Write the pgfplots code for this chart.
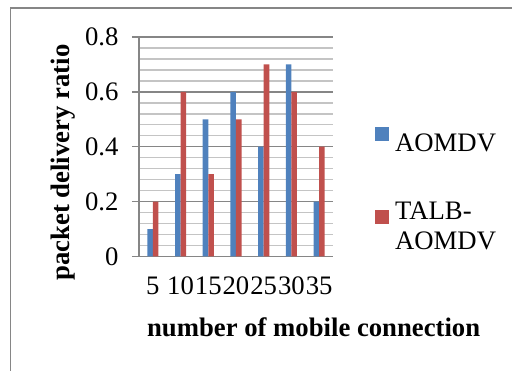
\documentclass[border=0pt]{standalone}
\usepackage{fontspec}
\setmainfont{Liberation Serif}
\usepackage{pgfplots}
\pgfplotsset{compat=1.18}

\definecolor{aomdv}{HTML}{4F81BD}
\definecolor{talb}{HTML}{C0504D}
\definecolor{majgrid}{HTML}{868686}
\definecolor{mingrid}{HTML}{C4C4C4}
\newcommand{\chartfont}{\fontsize{26.7}{30}\selectfont}

\pgfplotsset{
  sqlegend/.style={legend image code/.code={\fill[##1] (0pt,2pt) rectangle (14pt,16pt);}},
}

\begin{document}
\begin{tikzpicture}
\useasboundingbox (0pt,0pt) rectangle (512pt,371pt);
% chart area frame: top and left edges
\draw[majgrid, line width=1.3pt] (512pt,363pt) -- (10.5pt,363pt) -- (10.5pt,0pt);
\begin{axis}[
  at={(139pt,114.5pt)}, anchor=south west,
  scale only axis, width=194pt, height=219.5pt,
  xmin=-0.5, xmax=6.5, ymin=0, ymax=0.8,
  axis lines=left,
  axis line style={-, majgrid, line width=1.4pt},
  xtick={0,1,2,3,4,5,6},
  xticklabels={5,10,15,20,25,30,35},
  xtick style={draw=none},
  ytick={0,0.2,0.4,0.6,0.8},
  yticklabels={0,0.2,0.4,0.6,0.8},
  minor ytick={0.04,0.08,0.12,0.16,0.24,0.28,0.32,0.36,0.44,0.48,0.52,0.56,0.64,0.68,0.72,0.76},
  tick align=outside,
  major tick length=7pt, minor tick length=0pt,
  ytick style={majgrid, line width=1.4pt},
  ymajorgrids, yminorgrids,
  major grid style={majgrid, line width=1.4pt},
  minor grid style={mingrid, line width=1.4pt},
  ticklabel style={font=\chartfont},
  yticklabel style={xshift=-10pt},
  xticklabel style={yshift=-10pt},
  xlabel={number of mobile connection},
  xlabel style={font=\chartfont\bfseries, inner sep=0pt,
    at={(axis description cs:0.041,-0.365)}, anchor=base west},
  ylabel={packet delivery ratio},
  ylabel style={font=\chartfont\bfseries,
    at={(axis description cs:-0.356,0.428)}, anchor=base},
  ybar, bar width=0.2,
  legend style={draw=none, fill=none, font=\chartfont,
    at={(axis description cs:1.201,0.6)}, anchor=north west,
    row sep=45pt, column sep=4pt, nodes={align=left}},
  legend cell align=left,
]
\addplot[fill=aomdv, draw=none, bar shift=-0.1, sqlegend]
  coordinates {(0,0.1) (1,0.3) (2,0.5) (3,0.6) (4,0.4) (5,0.7) (6,0.2)};
\addplot[fill=talb, draw=none, bar shift=0.1, sqlegend]
  coordinates {(0,0.2) (1,0.6) (2,0.3) (3,0.5) (4,0.7) (5,0.6) (6,0.4)};
\legend{AOMDV, {TALB-\\AOMDV}}
\end{axis}
\end{tikzpicture}
\end{document}
